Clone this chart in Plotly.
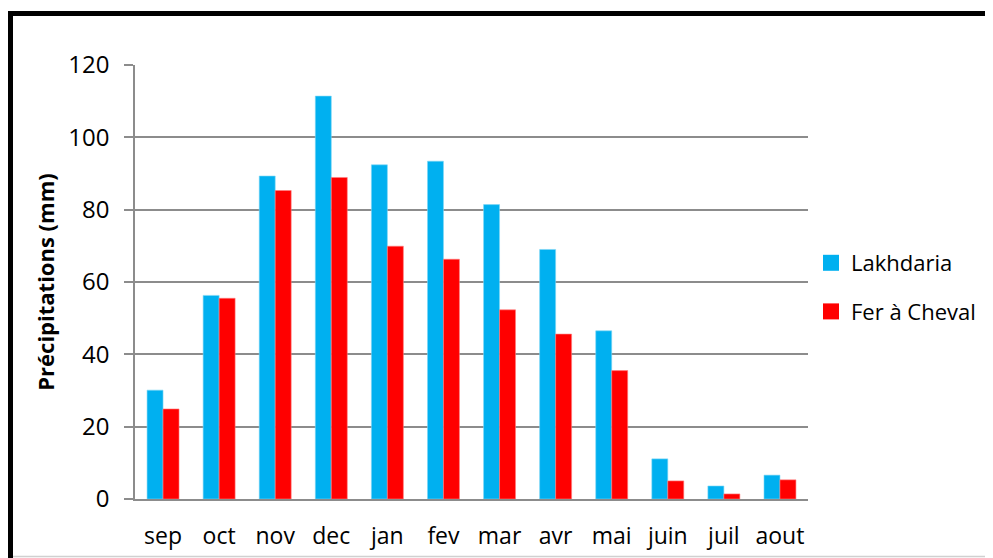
import plotly.graph_objects as go

months = ["sep", "oct", "nov", "dec", "jan", "fev", "mar", "avr", "mai", "juin", "juil", "aout"]
lakhdaria = [30.1, 56.3, 89.3, 111.4, 92.4, 93.4, 81.4, 69.0, 46.5, 11.1, 3.6, 6.6]
fer_a_cheval = [24.9, 55.5, 85.3, 88.9, 69.9, 66.3, 52.3, 45.6, 35.5, 5.0, 1.4, 5.3]
yticks = [0, 20, 40, 60, 80, 100, 120]

BLUE, RED = "#00B0F0", "#FF0000"

# page is offset by the 8px body margin; work in figure coordinates
OFF = 8
W, H = 993 - OFF, 558 - OFF
L, R, T, B = 135 - OFF, 808 - OFF, 65 - OFF, 499 - OFF

def px(x):
    return (x - OFF - L) / (R - L)

def py(y):
    return (B - (y - OFF)) / (B - T)

fig = go.Figure()
fig.add_trace(go.Bar(x=months, y=lakhdaria, name="Lakhdaria", showlegend=False,
                     marker=dict(color=BLUE, line=dict(color="#7fd6f5", width=0.6))))
fig.add_trace(go.Bar(x=months, y=fer_a_cheval, name="Fer à Cheval", showlegend=False,
                     marker=dict(color=RED, line=dict(color="#ff8080", width=0.6))))
# legend entries with larger square keys
fig.add_trace(go.Scatter(x=[None], y=[None], mode="markers", name="Lakhdaria", legendgroup="a",
                         marker=dict(symbol="square", size=17, color=BLUE)))
fig.add_trace(go.Scatter(x=[None], y=[None], mode="markers", name="Fer à Cheval", legendgroup="b",
                         marker=dict(symbol="square", size=17, color=RED)))

fig.update_layout(
    width=W, height=H,
    margin=dict(l=L, r=W - R, t=T, b=H - B, pad=0, autoexpand=False),
    paper_bgcolor="white", plot_bgcolor="white",
    barmode="group", bargap=0.43, bargroupgap=0,
    font=dict(family="Open Sans", color="black"),
    showlegend=True,
    legend=dict(x=px(811), y=py(242), xanchor="left", yanchor="top",
                font=dict(size=22, family="Open Sans"),
                tracegroupgap=17, itemwidth=30, bgcolor="rgba(0,0,0,0)"),
    xaxis=dict(showgrid=False, showline=True, linecolor="#8c8c8c", linewidth=1.5,
               ticks="", tickfont=dict(size=23), ticklabelstandoff=16, automargin=False),
    yaxis=dict(range=[0, 120], tickvals=yticks, showgrid=True, gridcolor="#8c8c8c",
               gridwidth=1.5, showline=True, linecolor="#8c8c8c", linewidth=1.5,
               ticks="outside", ticklen=9, tickcolor="#8c8c8c", tickwidth=1.5,
               tickfont=dict(size=24), ticklabelstandoff=10, zeroline=False, automargin=False,
               title=dict(text="<b>Précipitations (mm)</b>", font=dict(size=22), standoff=8)),
)

# outer frame: thick black left and top edges, light gray bottom edge
fig.add_shape(type="line", xref="paper", yref="paper", x0=px(10.5), x1=px(1010),
              y0=py(13.5), y1=py(13.5), line=dict(color="black", width=5))
fig.add_shape(type="line", xref="paper", yref="paper", x0=px(10.5), x1=px(10.5),
              y0=py(11), y1=py(570), line=dict(color="black", width=5))
fig.add_shape(type="line", xref="paper", yref="paper", x0=px(13), x1=px(1010),
              y0=py(556.5), y1=py(556.5), line=dict(color="#d0d0d0", width=1.5))

fig.write_html("out.html")
